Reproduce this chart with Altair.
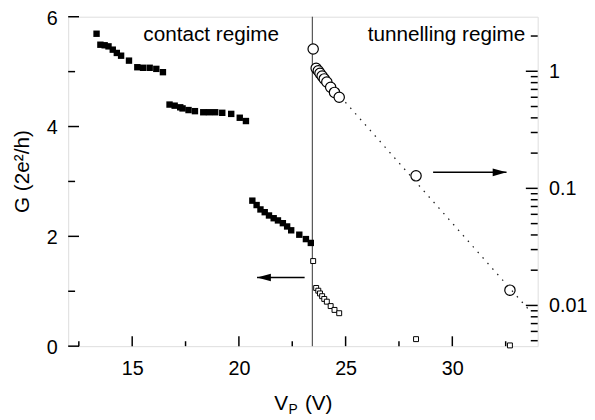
import altair as alt
import pandas as pd

# ---------------- data ----------------
# contact regime, conductance in 2e^2/h (left, linear axis)
contact_v = [13.33, 13.51, 13.71, 13.89, 14.09, 14.28, 14.48, 14.85, 15.24, 15.51, 15.82, 16.13, 16.44,
             16.75, 16.99, 17.25, 17.36, 17.64, 17.94, 18.33, 18.60, 18.89, 19.22, 19.64, 20.04, 20.33,
             20.63, 20.83, 21.01, 21.21, 21.41, 21.63, 21.83, 22.06, 22.26, 22.45, 22.83, 23.14, 23.37]
contact_g = [5.69, 5.49, 5.48, 5.46, 5.40, 5.34, 5.29, 5.20, 5.08, 5.07, 5.07, 5.05, 4.99,
             4.40, 4.38, 4.35, 4.33, 4.30, 4.28, 4.26, 4.26, 4.26, 4.25, 4.23, 4.16, 4.10,
             2.65, 2.57, 2.49, 2.44, 2.38, 2.33, 2.29, 2.24, 2.18, 2.11, 2.03, 1.95, 1.88]

# tunnelling regime (open squares on linear axis, open circles on log axis)
tunnel_v = [23.48, 23.62, 23.72, 23.80, 23.90, 24.00, 24.12, 24.30, 24.48, 24.70, 28.30, 32.70]
tunnel_g = [1.55, 1.06, 1.01, 0.96, 0.91, 0.86, 0.81, 0.73, 0.66, 0.60, 0.128, 0.0135]

# exponential fit (dotted line on log axis)
fit_v = [24.99, 33.63]
fit_g = [0.544, 0.0090]

# regime boundary
boundary_v = [23.44]

# arrows: [tail, tip]
left_arrow_v = [23.08, 20.85]
left_arrow_g = [1.25]
right_arrow_v = [29.10, 32.54]
right_arrow_g = [0.137]

# annotations
notes_text = ["contact regime", "tunnelling regime"]
notes_v = [15.52, 33.42]
notes_g = [5.563, 5.563]

# ticks
x_major = [15, 20, 25, 30]
x_minor = [12.5, 17.5, 22.5, 27.5, 32.5]
yl_major = [0, 2, 4, 6]
yl_minor = [1, 3, 5]
yr_major = [0.01, 0.1, 1]
yr_minor = [0.005, 0.006, 0.007, 0.008, 0.009,
            0.02, 0.03, 0.04, 0.05, 0.06, 0.07, 0.08, 0.09,
            0.2, 0.3, 0.4, 0.5, 0.6, 0.7, 0.8, 0.9, 2]

# ---------------- scales / axes ----------------
W, H = 476, 334
FONT = "Liberation Sans"

sx = alt.Scale(domain=[12, 34], nice=False, zero=False)
syl = alt.Scale(domain=[0, 6], nice=False, zero=False)
syr = alt.Scale(type="log", domain=[0.00449, 2.924], nice=False)

ax_x = alt.Axis(values=x_major, ticks=False, domain=False, grid=False, title=None,
                labelFontSize=20, labelPadding=13, labelColor="black", labelFont=FONT)
ax_yl = alt.Axis(values=yl_major, ticks=False, domain=False, grid=False, title=None,
                 labelFontSize=20, labelPadding=11, labelOffset=1.5, labelColor="black",
                 labelFont=FONT)
ax_yr = alt.Axis(orient="right", values=yr_major, format="~g", ticks=False, domain=False,
                 grid=False, title=None, labelFontSize=20, labelPadding=11,
                 labelColor="black", labelFont=FONT)


def X(f):
    return alt.X(f, type="quantitative", scale=sx, axis=ax_x)


def YL(f):
    return alt.Y(f, type="quantitative", scale=syl, axis=ax_yl)


def YR(f):
    return alt.Y(f, type="quantitative", scale=syr, axis=ax_yr)


contact_df = pd.DataFrame({"v": contact_v, "g": contact_g})
tunnel_df = pd.DataFrame({"v": tunnel_v, "g": tunnel_g})
fit_df = pd.DataFrame({"v": fit_v, "g": fit_g})
bound_df = pd.DataFrame({"v": boundary_v})
larr_df = pd.DataFrame({"v1": [left_arrow_v[0]], "v2": [left_arrow_v[1]], "g": left_arrow_g})
lhead_df = pd.DataFrame({"v": [left_arrow_v[1]], "g": left_arrow_g})
rarr_df = pd.DataFrame({"v1": [right_arrow_v[0]], "v2": [right_arrow_v[1]], "g": right_arrow_g})
rhead_df = pd.DataFrame({"v": [right_arrow_v[1]], "g": right_arrow_g})
notes_df = pd.DataFrame({"v": notes_v, "g": notes_g, "t": notes_text})

# ---------------- left (linear) group ----------------
vline = alt.Chart(bound_df).mark_rule(color="#333333", strokeWidth=1).encode(x=X("v"))

filled = alt.Chart(contact_df).mark_square(size=42, color="black", opacity=1).encode(
    x=X("v"), y=YL("g"))

open_sq = alt.Chart(tunnel_df).mark_square(size=25, filled=True, fill="white", stroke="black",
                                           strokeWidth=1, opacity=1).encode(x=X("v"), y=YL("g"))

larr = alt.Chart(larr_df).mark_rule(color="black", strokeWidth=1.5).encode(
    x=X("v1"), x2="v2", y=YL("g"))
lhead = alt.Chart(lhead_df).mark_point(shape="M0,0L2,-0.55L2,0.55Z", size=196, filled=True,
                                       color="black", opacity=1, strokeWidth=0).encode(
    x=X("v"), y=YL("g"))

note_contact = alt.Chart(notes_df.iloc[[0]]).mark_text(
    align="left", baseline="alphabetic", fontSize=21, font=FONT, color="black").encode(
    x=X("v"), y=YL("g"), text="t")
note_tunnel = alt.Chart(notes_df.iloc[[1]]).mark_text(
    align="right", baseline="alphabetic", fontSize=21, font=FONT, color="black").encode(
    x=X("v"), y=YL("g"), text="t")

# inward ticks: each tick is centred half its length inside the frame
tl_major = alt.Chart(pd.DataFrame({"g": yl_major})).mark_tick(
    orient="horizontal", size=11, thickness=1.5, color="black", opacity=1).encode(
    y=YL("g"), x=alt.value(5.5))
tl_minor = alt.Chart(pd.DataFrame({"g": yl_minor})).mark_tick(
    orient="horizontal", size=7, thickness=1.5, color="black", opacity=1).encode(
    y=YL("g"), x=alt.value(3.5))
tx_major = alt.Chart(pd.DataFrame({"v": x_major})).mark_tick(
    orient="vertical", size=10, thickness=1.5, color="black", opacity=1).encode(
    x=X("v"), y=alt.value(H - 5))
tx_minor = alt.Chart(pd.DataFrame({"v": x_minor})).mark_tick(
    orient="vertical", size=5, thickness=1.5, color="black", opacity=1).encode(
    x=X("v"), y=alt.value(H - 2.5))

ytitle = alt.Chart(pd.DataFrame({"t": ["G (2e²/h)"]})).mark_text(
    angle=270, align="center", baseline="middle", fontSize=21, font=FONT, color="black").encode(
    text="t", x=alt.value(-46), y=alt.value(157))
xt_v = alt.Chart(pd.DataFrame({"t": ["V"]})).mark_text(
    align="left", baseline="alphabetic", fontSize=21, font=FONT, color="black").encode(
    text="t", x=alt.value(209), y=alt.value(399))
xt_p = alt.Chart(pd.DataFrame({"t": ["P"]})).mark_text(
    align="left", baseline="alphabetic", fontSize=14, font=FONT, color="black").encode(
    text="t", x=alt.value(223.5), y=alt.value(403))
xt_u = alt.Chart(pd.DataFrame({"t": ["(V)"]})).mark_text(
    align="left", baseline="alphabetic", fontSize=21, font=FONT, color="black").encode(
    text="t", x=alt.value(240), y=alt.value(399))

left = alt.layer(vline, filled, open_sq, larr, lhead, note_contact, note_tunnel,
                 tl_major, tl_minor, tx_major, tx_minor, ytitle, xt_v, xt_p, xt_u)

# ---------------- right (log) group ----------------
circles = alt.Chart(tunnel_df).mark_circle(size=110, fill="white", stroke="black",
                                           strokeWidth=1.2, opacity=1).encode(x=X("v"), y=YR("g"))
fit = alt.Chart(fit_df).mark_line(color="#222222", strokeWidth=1.3, strokeDash=[1.5, 6]).encode(
    x=X("v"), y=YR("g"))
rarr = alt.Chart(rarr_df).mark_rule(color="black", strokeWidth=1.5).encode(
    x=X("v1"), x2="v2", y=YR("g"))
rhead = alt.Chart(rhead_df).mark_point(shape="M0,0L-2,-0.55L-2,0.55Z", size=196, filled=True,
                                       color="black", opacity=1, strokeWidth=0).encode(
    x=X("v"), y=YR("g"))
tr_major = alt.Chart(pd.DataFrame({"g": yr_major})).mark_tick(
    orient="horizontal", size=12, thickness=1.5, color="black", opacity=1).encode(
    y=YR("g"), x=alt.value(W - 6))
tr_minor = alt.Chart(pd.DataFrame({"g": yr_minor})).mark_tick(
    orient="horizontal", size=7, thickness=1.5, color="black", opacity=1).encode(
    y=YR("g"), x=alt.value(W - 3.5))

right = alt.layer(circles, fit, rarr, rhead, tr_major, tr_minor)

chart = (
    alt.layer(left, right)
    .resolve_scale(y="independent")
    .properties(width=W, height=H,
                padding={"left": 61, "top": 6, "right": 50, "bottom": 70},
                autosize=alt.AutoSizeParams(type="none"))
    .configure_view(stroke="black", strokeWidth=2)
    .configure(font=FONT)
)

chart.save("out.html", embed_options={"renderer": "svg", "actions": False})
